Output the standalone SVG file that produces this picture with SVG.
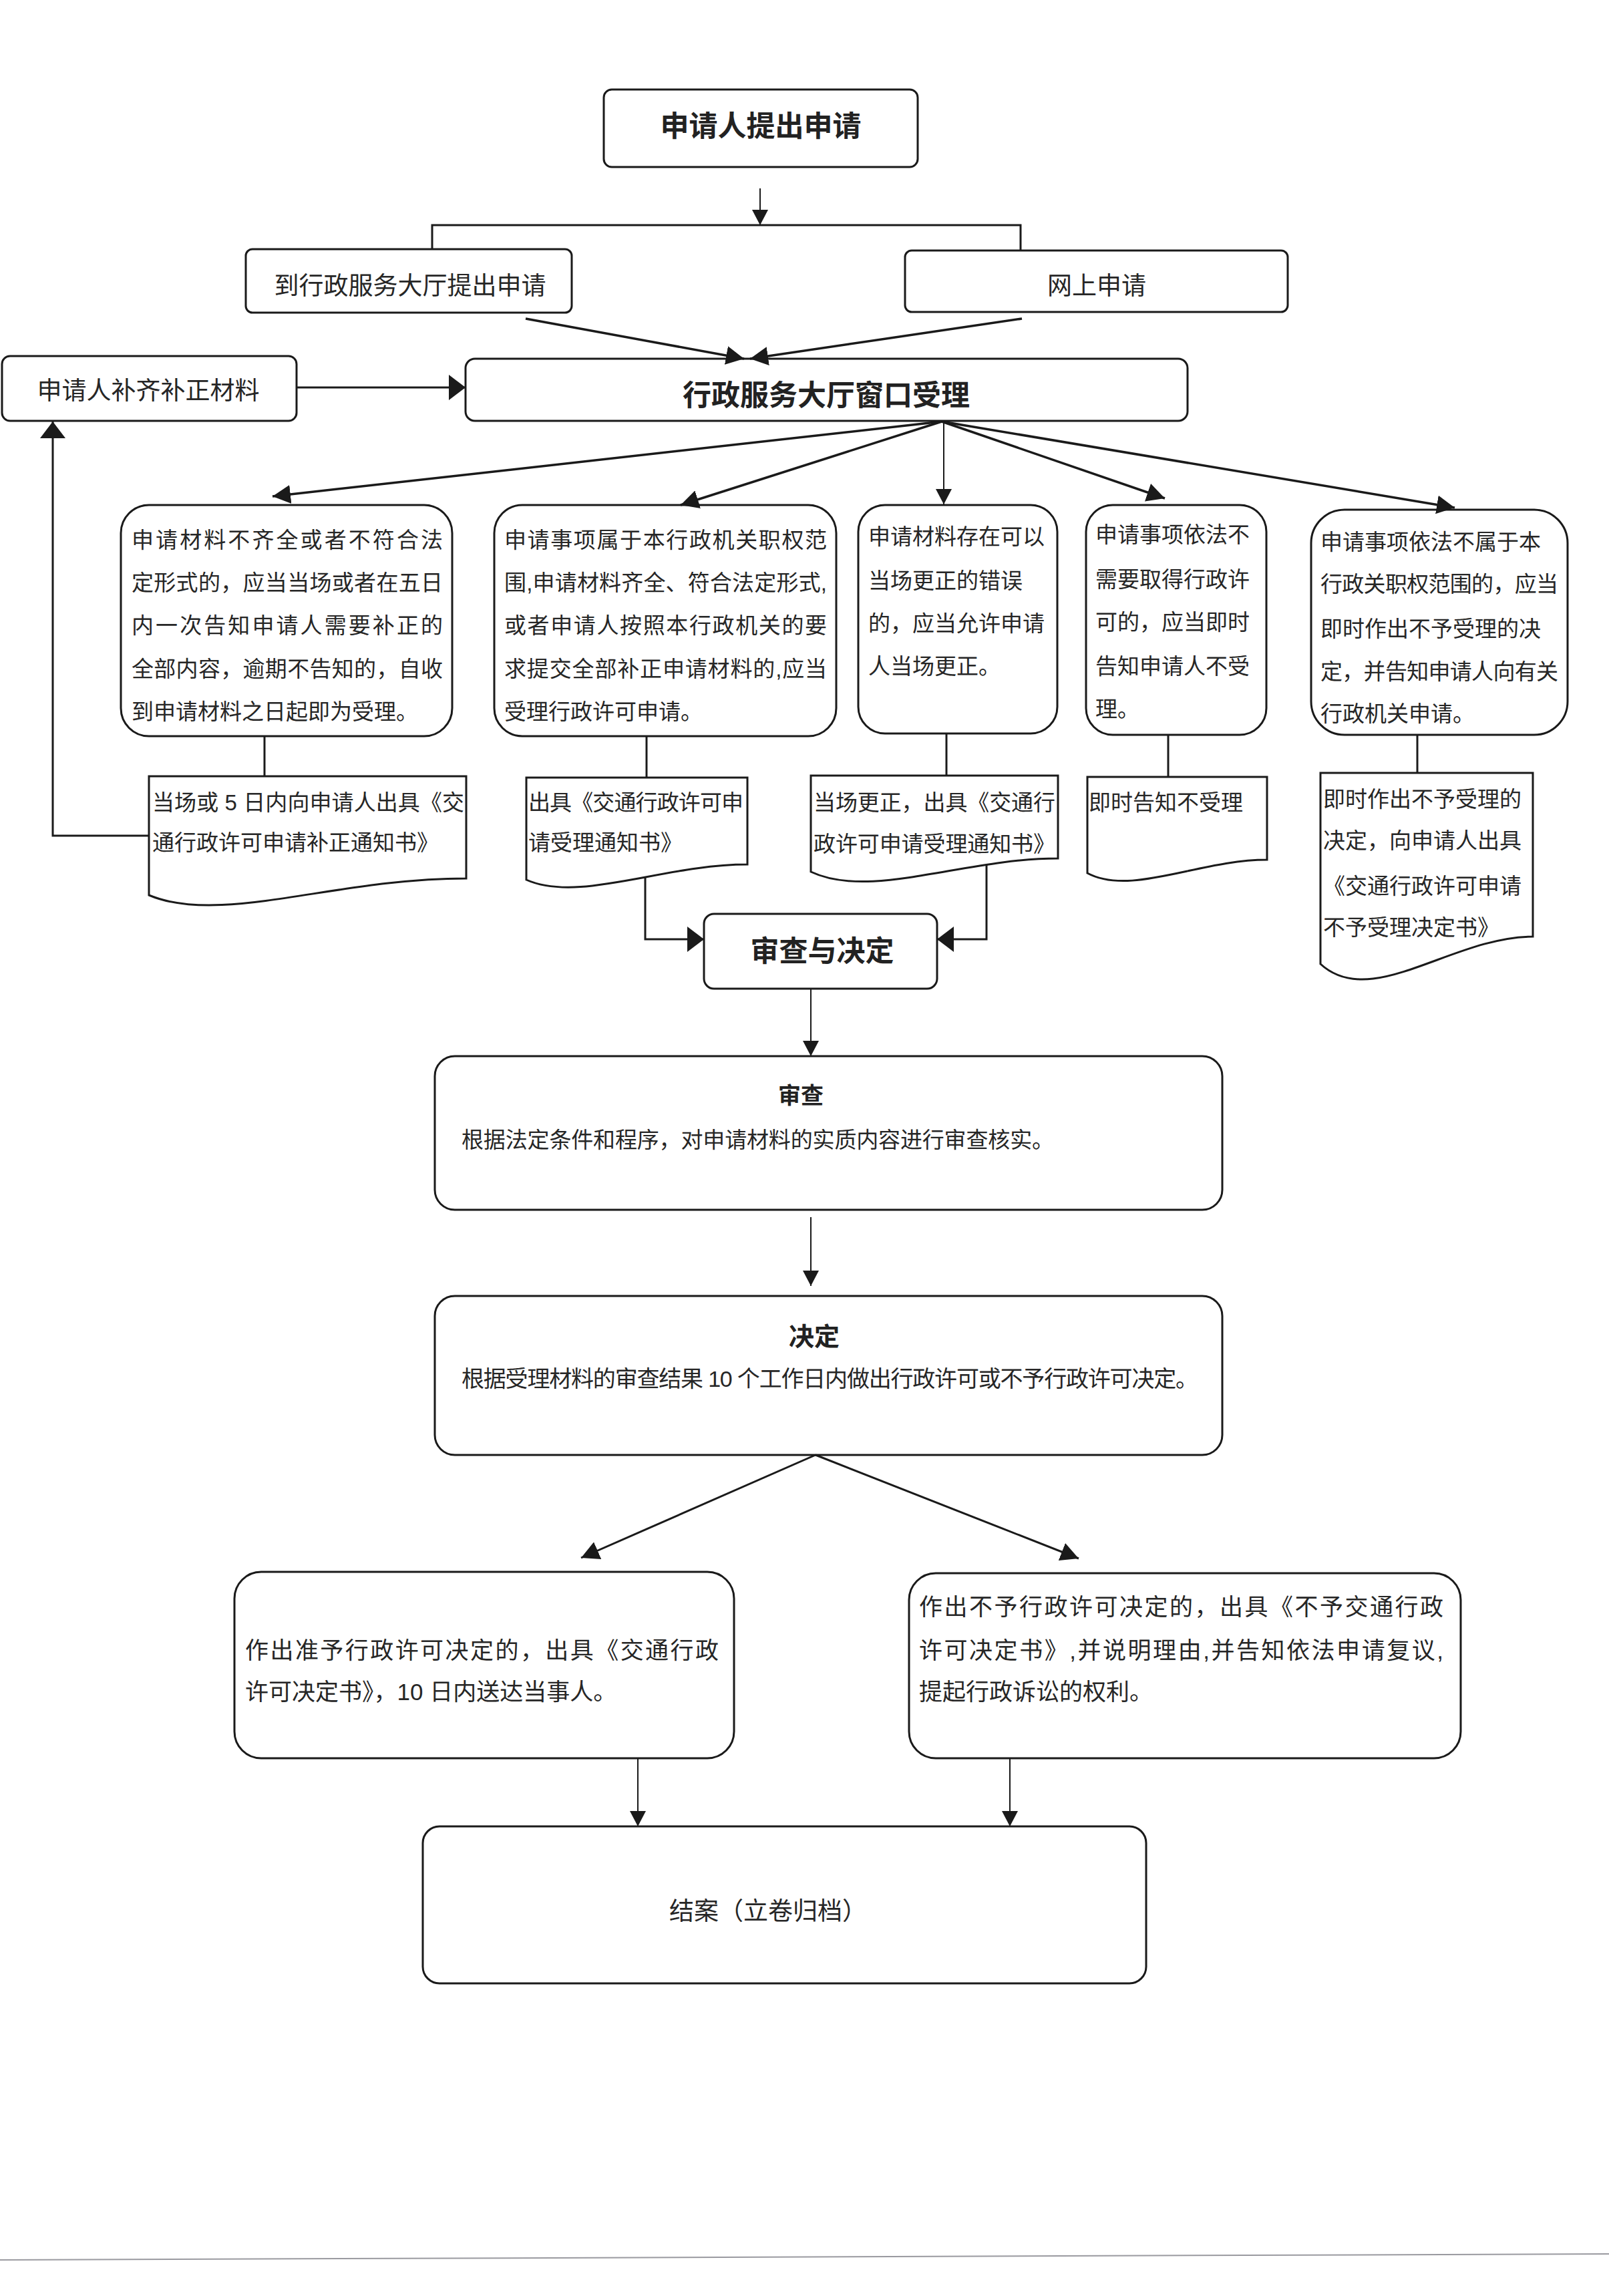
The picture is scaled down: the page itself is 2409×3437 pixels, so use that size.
<svg xmlns="http://www.w3.org/2000/svg" width="2409" height="3437" viewBox="0 0 2409 3437">
<style>
.n{fill:#fff;stroke:#1a1a1a;stroke-width:3}
.t{font-family:"Liberation Sans","Noto Sans CJK SC",sans-serif;fill:#262626}
.b{font-family:"Noto Sans CJK SC",sans-serif;font-weight:bold;fill:#222}
.m{text-anchor:middle}
.c{fill:none;stroke:#1a1a1a;stroke-width:3}
.thin{stroke-width:2}
.thick{stroke-width:3.5}
</style>
<defs>
<marker id="mBig" markerUnits="userSpaceOnUse" markerWidth="28" markerHeight="28" refX="27" refY="14" orient="auto" viewBox="0 0 28 28"><path d="M0,0 L27,14 L0,28 Z" fill="#1a1a1a"/></marker>
<marker id="mWide" markerUnits="userSpaceOnUse" markerWidth="26" markerHeight="38" refX="25" refY="19" orient="auto" viewBox="0 0 26 38"><path d="M0,0 L25,19 L0,38 Z" fill="#1a1a1a"/></marker>
<marker id="mSmall" markerUnits="userSpaceOnUse" markerWidth="24" markerHeight="24" refX="23" refY="12" orient="auto" viewBox="0 0 24 24"><path d="M0,0 L23,12 L0,24 Z" fill="#1a1a1a"/></marker>
</defs>
<rect width="2409" height="3437" fill="#fff"/>

<g id="n_start"><rect class="n" x="904" y="134" width="470" height="116" rx="12"/><text class="b m" x="1139" y="204" font-size="43">申请人提出申请</text></g>
<g id="n_hall"><rect class="n" x="368" y="373" width="488" height="95" rx="10"/><text class="t m" x="614" y="441" font-size="37">到行政服务大厅提出申请</text></g>
<g id="n_online"><rect class="n" x="1355" y="375" width="573" height="92" rx="10"/><text class="t m" x="1642" y="441" font-size="37">网上申请</text></g>
<g id="n_supp"><rect class="n" x="3" y="533" width="441" height="97" rx="12"/><text class="t m" x="222" y="598" font-size="37">申请人补齐补正材料</text></g>
<g id="n_accept"><rect class="n" x="697" y="537" width="1081" height="93" rx="14"/><text class="b m" x="1237" y="607" font-size="43">行政服务大厅窗口受理</text></g>

<g id="n_a" font-size="33"><rect class="n" x="181" y="756" width="496" height="346" rx="42"/>
<text class="t" x="197" y="820" textLength="466" lengthAdjust="spacing">申请材料不齐全或者不符合法</text>
<text class="t" x="197" y="884" textLength="466" lengthAdjust="spacing">定形式的，应当当场或者在五日</text>
<text class="t" x="197" y="948" textLength="466" lengthAdjust="spacing">内一次告知申请人需要补正的</text>
<text class="t" x="197" y="1013" textLength="466" lengthAdjust="spacing">全部内容，逾期不告知的，自收</text>
<text class="t" x="197" y="1077">到申请材料之日起即为受理。</text></g>
<g id="n_b" font-size="33"><rect class="n" x="740" y="756" width="512" height="346" rx="42"/>
<text class="t" x="755" y="820" textLength="483" lengthAdjust="spacing">申请事项属于本行政机关职权范</text>
<text class="t" x="755" y="884" textLength="483" lengthAdjust="spacing">围,申请材料齐全、符合法定形式,</text>
<text class="t" x="755" y="948" textLength="483" lengthAdjust="spacing">或者申请人按照本行政机关的要</text>
<text class="t" x="755" y="1013" textLength="483" lengthAdjust="spacing">求提交全部补正申请材料的,应当</text>
<text class="t" x="755" y="1077">受理行政许可申请。</text></g>
<g id="n_c" font-size="33"><rect class="n" x="1285" y="756" width="298" height="342" rx="40"/>
<text class="t" x="1300" y="815">申请材料存在可以</text>
<text class="t" x="1300" y="881">当场更正的错误</text>
<text class="t" x="1300" y="945">的，应当允许申请</text>
<text class="t" x="1300" y="1009">人当场更正。</text></g>
<g id="n_d" font-size="33"><rect class="n" x="1626" y="756" width="270" height="344" rx="40"/>
<text class="t" x="1640" y="812">申请事项依法不</text>
<text class="t" x="1640" y="879">需要取得行政许</text>
<text class="t" x="1640" y="943">可的，应当即时</text>
<text class="t" x="1640" y="1009">告知申请人不受</text>
<text class="t" x="1640" y="1073">理。</text></g>
<g id="n_e" font-size="33"><rect class="n" x="1963" y="763" width="384" height="337" rx="50"/>
<text class="t" x="1977" y="823">申请事项依法不属于本</text>
<text class="t" x="1977" y="886" textLength="356" lengthAdjust="spacing">行政关职权范围的，应当</text>
<text class="t" x="1977" y="953">即时作出不予受理的决</text>
<text class="t" x="1977" y="1017" textLength="356" lengthAdjust="spacing">定，并告知申请人向有关</text>
<text class="t" x="1977" y="1080">行政机关申请。</text></g>

<g id="d_a" font-size="33"><path class="n" d="M223,1162 H698 V1315 C500,1315 330,1385 223,1340 Z"/>
<text class="t" x="228" y="1213" textLength="467" lengthAdjust="spacing">当场或 5 日内向申请人出具《交</text>
<text class="t" x="228" y="1273">通行政许可申请补正通知书》</text></g>
<g id="d_b" font-size="33"><path class="n" d="M788,1164 H1119 V1294 C993,1294 867,1352 788,1317 Z"/>
<text class="t" x="791" y="1213" textLength="322" lengthAdjust="spacing">出具《交通行政许可申</text>
<text class="t" x="791" y="1273">请受理通知书》</text></g>
<g id="d_c" font-size="33"><path class="n" d="M1214,1161 H1584 V1285 C1443,1285 1303,1347 1214,1305 Z"/>
<text class="t" x="1218" y="1213" textLength="362" lengthAdjust="spacing">当场更正，出具《交通行</text>
<text class="t" x="1218" y="1275" textLength="362" lengthAdjust="spacing">政许可申请受理通知书》</text></g>
<g id="d_d" font-size="33"><path class="n" d="M1628,1163 H1897 V1287 C1795,1287 1693,1342 1628,1307 Z"/>
<text class="t" x="1630" y="1213">即时告知不受理</text></g>
<g id="d_e" font-size="33"><path class="n" d="M1977,1157 H2295 V1402 C2174,1402 2053,1513 1977,1443 Z"/>
<text class="t" x="1981" y="1208">即时作出不予受理的</text>
<text class="t" x="1981" y="1270">决定，向申请人出具</text>
<text class="t" x="1981" y="1338">《交通行政许可申请</text>
<text class="t" x="1981" y="1400">不予受理决定书》</text></g>

<g id="n_review_decide"><rect class="n" x="1054" y="1368" width="349" height="112" rx="15"/><text class="b m" x="1231" y="1439" font-size="43">审查与决定</text></g>
<g id="n_review"><rect class="n" x="651" y="1581" width="1179" height="230" rx="30"/>
<text class="b m" x="1199" y="1652" font-size="34">审查</text>
<text class="t" x="691" y="1718" font-size="33" textLength="887" lengthAdjust="spacing">根据法定条件和程序，对申请材料的实质内容进行审查核实。</text></g>
<g id="n_decide"><rect class="n" x="651" y="1940" width="1179" height="238" rx="30"/>
<text class="b m" x="1219" y="2014" font-size="38">决定</text>
<text class="t" x="691" y="2076" font-size="34" textLength="1103" lengthAdjust="spacing">根据受理材料的审查结果 10 个工作日内做出行政许可或不予行政许可决定。</text></g>
<g id="n_grant" font-size="35"><rect class="n" x="351" y="2353" width="748" height="279" rx="40"/>
<text class="t" x="367" y="2483" textLength="709" lengthAdjust="spacing">作出准予行政许可决定的，出具《交通行政</text>
<text class="t" x="367" y="2545">许可决定书》，10 日内送达当事人。</text></g>
<g id="n_deny" font-size="35"><rect class="n" x="1361" y="2355" width="826" height="277" rx="40"/>
<text class="t" x="1376" y="2418" textLength="785" lengthAdjust="spacing">作出不予行政许可决定的，出具《不予交通行政</text>
<text class="t" x="1376" y="2483" textLength="785" lengthAdjust="spacing">许可决定书》,并说明理由,并告知依法申请复议,</text>
<text class="t" x="1376" y="2545">提起行政诉讼的权利。</text></g>
<g id="n_close"><rect class="n" x="633" y="2734" width="1083" height="235" rx="25"/>
<text class="t m" x="1150" y="2874" font-size="37">结案（立卷归档）</text></g>

<g id="connectors">
<path class="c thin" d="M1138,282 V337" marker-end="url(#mSmall)"/>
<path class="c" d="M647,374 V337 H1528 V375"/>
<path class="c thick" d="M787,477 L1114,537" marker-end="url(#mBig)"/>
<path class="c thick" d="M1530,477 L1123,537" marker-end="url(#mBig)"/>
<path class="c" d="M444,580 H697" marker-end="url(#mWide)"/>
<path class="c" d="M223,1251 H79 V631" marker-end="url(#mWide)"/>
<path class="c thick" d="M1410,631 L408,743" marker-end="url(#mBig)"/>
<path class="c thick" d="M1410,631 L1019,756" marker-end="url(#mBig)"/>
<path class="c thin" d="M1413,631 V755" marker-end="url(#mSmall)"/>
<path class="c thick" d="M1410,631 L1744,746" marker-end="url(#mBig)"/>
<path class="c thick" d="M1410,631 L2178,760" marker-end="url(#mBig)"/>
<path class="c" d="M396,1102 V1162"/>
<path class="c" d="M968,1102 V1164"/>
<path class="c" d="M1417,1098 V1161"/>
<path class="c" d="M1749,1100 V1163"/>
<path class="c" d="M2122,1100 V1157"/>
<path class="c" d="M966,1313 V1406 H1054" marker-end="url(#mWide)"/>
<path class="c" d="M1477,1295 V1406 H1403" marker-end="url(#mWide)"/>
<path class="c thin" d="M1214,1480 V1581" marker-end="url(#mSmall)"/>
<path class="c thin" d="M1214,1822 V1925" marker-end="url(#mSmall)"/>
<path class="c" d="M1221,2178 L870,2332" marker-end="url(#mBig)"/>
<path class="c" d="M1221,2178 L1615,2333" marker-end="url(#mBig)"/>
<path class="c thin" d="M955,2632 V2734" marker-end="url(#mSmall)"/>
<path class="c thin" d="M1512,2632 V2734" marker-end="url(#mSmall)"/>
</g>
<path d="M0,3383 L2409,3374" stroke="#9a9aa0" stroke-width="2" fill="none"/>
</svg>
